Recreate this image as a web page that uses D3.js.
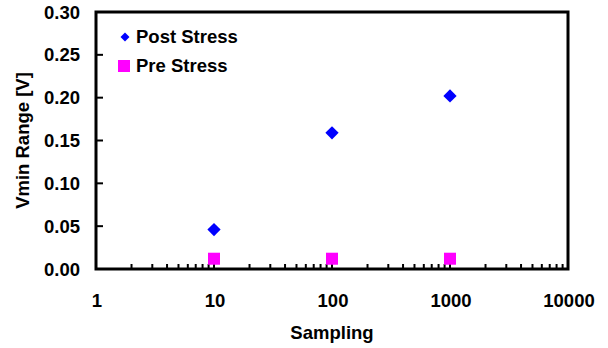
<!DOCTYPE html>
<html><head><meta charset="utf-8">
<script src="https://cdn.jsdelivr.net/npm/d3@7"></script>
<style>body{margin:0;background:#fff}svg{display:block}text{font-family:"Liberation Sans",Arial,sans-serif;font-weight:bold;fill:#000}</style>
</head><body>
<script>
const sampling = [10, 100, 1000];
const postStress = [0.046, 0.159, 0.202];
const preStress = [0.012, 0.012, 0.012];
const yTicks = [0, 0.05, 0.10, 0.15, 0.20, 0.25, 0.30];
const xTicks = [1, 10, 100, 1000, 10000];
const seriesNames = ["Post Stress", "Pre Stress"];

const W = 608, H = 348, FS = 18.5;
const m = {l: 96, r: 40, t: 12, b: 79};
const svg = d3.select("body").append("svg").attr("width", W).attr("height", H);
const x = d3.scaleLog().domain([1, 10000]).range([m.l, W - m.r]);
const y = d3.scaleLinear().domain([0, 0.30]).range([H - m.b, m.t]);

// y ticks (inward)
svg.append("g").selectAll("line").data(yTicks).join("line")
  .attr("x1", m.l).attr("x2", m.l + 7)
  .attr("y1", d => y(d)).attr("y2", d => y(d))
  .attr("stroke", "#000").attr("stroke-width", 2);
svg.append("g").selectAll("text").data(yTicks).join("text")
  .attr("x", 80).attr("y", d => y(d) + 6.5)
  .attr("text-anchor", "end").attr("font-size", FS)
  .text(d => d3.format(".2f")(d));

// x ticks (inward), major and minor
const minor = [];
for (let e = 0; e < 4; e++) for (let k = 2; k <= 9; k++) minor.push(k * Math.pow(10, e));
svg.append("g").selectAll("line").data(minor).join("line")
  .attr("x1", d => x(d)).attr("x2", d => x(d))
  .attr("y1", y(0)).attr("y2", y(0) - 5)
  .attr("stroke", "#000").attr("stroke-width", 2);
svg.append("g").selectAll("line").data(xTicks).join("line")
  .attr("x1", d => x(d)).attr("x2", d => x(d))
  .attr("y1", y(0)).attr("y2", y(0) - 7)
  .attr("stroke", "#000").attr("stroke-width", 2);
svg.append("g").selectAll("text").data(xTicks).join("text")
  .attr("x", d => x(d) + 1).attr("y", 306.5)
  .attr("text-anchor", "middle").attr("font-size", FS)
  .text(d => d);

// plot border
svg.append("rect").attr("x", m.l).attr("y", m.t)
  .attr("width", W - m.r - m.l).attr("height", H - m.b - m.t)
  .attr("fill", "none").attr("stroke", "#000").attr("stroke-width", 3);

// Axis titles
svg.append("text").attr("x", (m.l + W - m.r) / 2).attr("y", 339)
  .attr("text-anchor", "middle").attr("font-size", FS).text("Sampling");
svg.append("text").attr("transform", `translate(29,${(m.t + H - m.b) / 2}) rotate(-90)`)
  .attr("text-anchor", "middle").attr("font-size", FS).text("Vmin Range [V]");

// Pre stress squares
const sq = 12;
svg.append("g").selectAll("rect").data(sampling).join("rect")
  .attr("x", (d) => x(d) - sq / 2).attr("y", (d, i) => y(preStress[i]) - sq / 2)
  .attr("width", sq).attr("height", sq).attr("fill", "#FF00FF");

// Post stress diamonds
const dia = d3.symbol().type(d3.symbolSquare).size(88);
svg.append("g").selectAll("path").data(sampling).join("path")
  .attr("d", dia)
  .attr("transform", (d, i) => `translate(${x(d)},${y(postStress[i])}) rotate(45)`)
  .attr("fill", "#0000FF");

// Legend
const lg = svg.append("g");
lg.append("path").attr("d", d3.symbol().type(d3.symbolSquare).size(40))
  .attr("transform", "translate(125,37) rotate(45)").attr("fill", "#0000FF");
lg.append("rect").attr("x", 118).attr("y", 60).attr("width", 12).attr("height", 12).attr("fill", "#FF00FF");
lg.append("text").attr("x", 136).attr("y", 43).attr("font-size", FS).text(seriesNames[0]);
lg.append("text").attr("x", 136).attr("y", 72).attr("font-size", FS).text(seriesNames[1]);
</script>
</body></html>
